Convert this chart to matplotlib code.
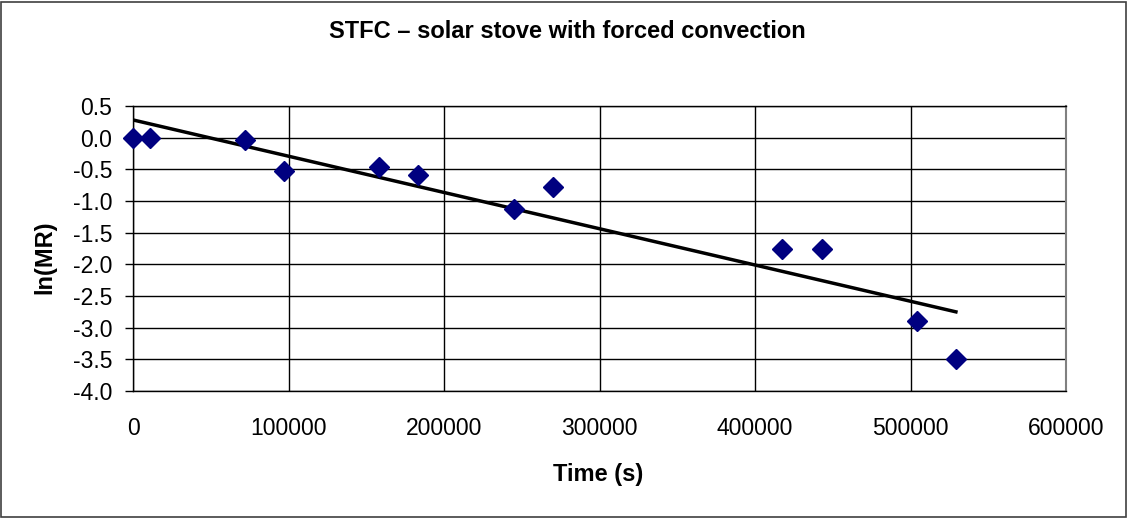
import numpy as np
import matplotlib.pyplot as plt
from matplotlib.patches import Rectangle

plt.rcParams['font.family'] = ['Liberation Sans', 'DejaVu Sans']

# time (s) and ln(MR)
time_s = [0, 10800, 72000, 97200, 158400, 183600, 244800, 270000,
          417600, 442800, 504000, 529200]
ln_mr = [0.0, 0.0, -0.03, -0.53, -0.47, -0.59, -1.12, -0.78,
         -1.75, -1.75, -2.90, -3.50]

title = 'STFC \u2013 solar stove with forced convection'
xticks = [0, 100000, 200000, 300000, 400000, 500000, 600000]
yticks = [0.5, 0.0, -0.5, -1.0, -1.5, -2.0, -2.5, -3.0, -3.5, -4.0]

x = np.array(time_s)
y = np.array(ln_mr)
slope, icept = np.polyfit(x, y, 1)
xfit = np.array([x.min(), x.max()])

fig = plt.figure(figsize=(11.28, 5.18), dpi=100)
ax = fig.add_axes([133/1128, 1-391/518, (1066-133)/1128, (391-106)/518])

ax.plot(xfit, slope*xfit + icept, color='black', lw=2.5, zorder=3)
ax.plot(x, y, 'D', color='#000080', ms=10.5, mec='#000080', zorder=4, clip_on=False)

ax.set_xlim(0, 600000)
ax.set_ylim(-4.0, 0.5)
ax.set_xticks(xticks)
ax.set_xticklabels([str(v) for v in xticks])
ax.set_yticks(yticks)
ax.set_yticklabels(['%.1f' % v for v in yticks])
ax.grid(True, color='black', lw=1)
ax.set_axisbelow(True)
ax.tick_params(axis='x', length=0, pad=19, labelsize=16.5)
ax.tick_params(axis='y', length=6, width=1, pad=9, labelsize=16.5)
for s in ['left', 'bottom', 'top']:
    ax.spines[s].set_color('black')
    ax.spines[s].set_linewidth(1)
ax.spines['right'].set_color('#808080')
ax.spines['right'].set_linewidth(1.5)

fig.text(567/1128, 1-31/518, title, ha='center', va='center', fontsize=17, fontweight='bold')
fig.text(598/1128, 1-475/518, 'Time (s)', ha='center', va='center', fontsize=17, fontweight='bold')
fig.text(45/1128, 1-257/518, 'ln(MR)', ha='center', va='center', rotation=90, fontsize=17, fontweight='bold')

fig.patches.append(Rectangle((0.001, 0.002), 0.997, 0.995, transform=fig.transFigure,
                             fill=False, ec='#404040', lw=1.2))

fig.savefig('out.png', dpi=100)
